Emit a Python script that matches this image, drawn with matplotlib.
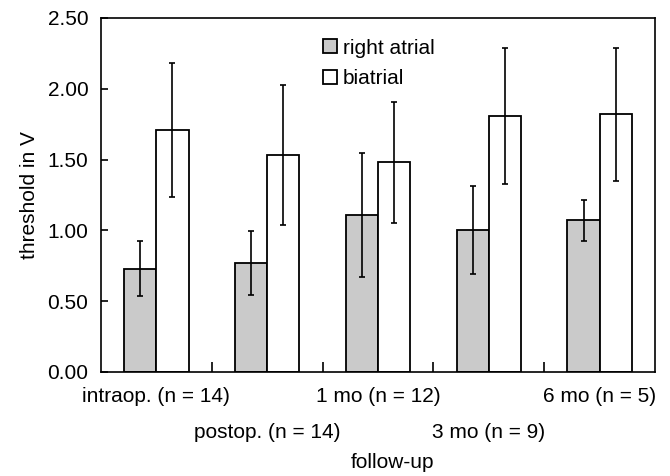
import numpy as np
import matplotlib.pyplot as plt

plt.rcParams['font.family'] = ['Liberation Sans', 'DejaVu Sans']

# data
categories = ['intraop. (n = 14)', 'postop. (n = 14)', '1 mo (n = 12)',
              '3 mo (n = 9)', '6 mo (n = 5)']
right_atrial = [0.73, 0.77, 1.11, 1.00, 1.07]
right_atrial_sd = [0.195, 0.225, 0.44, 0.31, 0.148]
biatrial = [1.71, 1.53, 1.48, 1.81, 1.82]
biatrial_sd = [0.475, 0.495, 0.43, 0.48, 0.47]
yticks = [0.0, 0.5, 1.0, 1.5, 2.0, 2.5]

fs = 15

fig = plt.figure(figsize=(6.7, 4.76), dpi=100)
ax = fig.add_axes([0.1507, 0.2185, 0.8269, 0.7437])

x = np.arange(len(categories))
w = 0.29
err_kw = dict(ecolor='black', elinewidth=1.2, capsize=2.2, capthick=1.2)
ax.bar(x - w / 2, right_atrial, w, yerr=right_atrial_sd, color='#cacaca',
       edgecolor='black', linewidth=1.3, label='right atrial', error_kw=err_kw)
ax.bar(x + w / 2, biatrial, w, yerr=biatrial_sd, color='white',
       edgecolor='black', linewidth=1.3, label='biatrial', error_kw=err_kw)

ax.set_xlim(-0.5, len(categories) - 0.5)
ax.set_ylim(0, 2.5)
ax.set_yticks(yticks)
ax.set_yticklabels(['%.2f' % v for v in yticks], fontsize=fs)
ax.tick_params(axis='y', direction='in', length=5, width=1.2, pad=9)

# x ticks between groups, labels staggered on two rows
ax.set_xticks(x[:-1] + 0.5)
ax.set_xticklabels([])
ax.tick_params(axis='x', direction='in', length=7, width=1.2)
for i, lab in enumerate(categories):
    yy = -0.07 if i % 2 == 0 else -0.17
    ax.text(i, yy, lab, transform=ax.get_xaxis_transform(), ha='center',
            va='center', fontsize=fs)

for s in ax.spines.values():
    s.set_linewidth(1.2)

ax.set_ylabel('threshold in V', fontsize=fs, labelpad=6)
fig.text(0.5858, 1 - 463 / 476, 'follow-up', ha='center', va='center', fontsize=fs)

ax.legend(loc='upper left', bbox_to_anchor=(0.386, 0.965), frameon=False,
          fontsize=fs, handlelength=0.65, handleheight=0.65,
          handletextpad=0.3, labelspacing=0.55, borderaxespad=0)

fig.savefig('out.png', dpi=100)
